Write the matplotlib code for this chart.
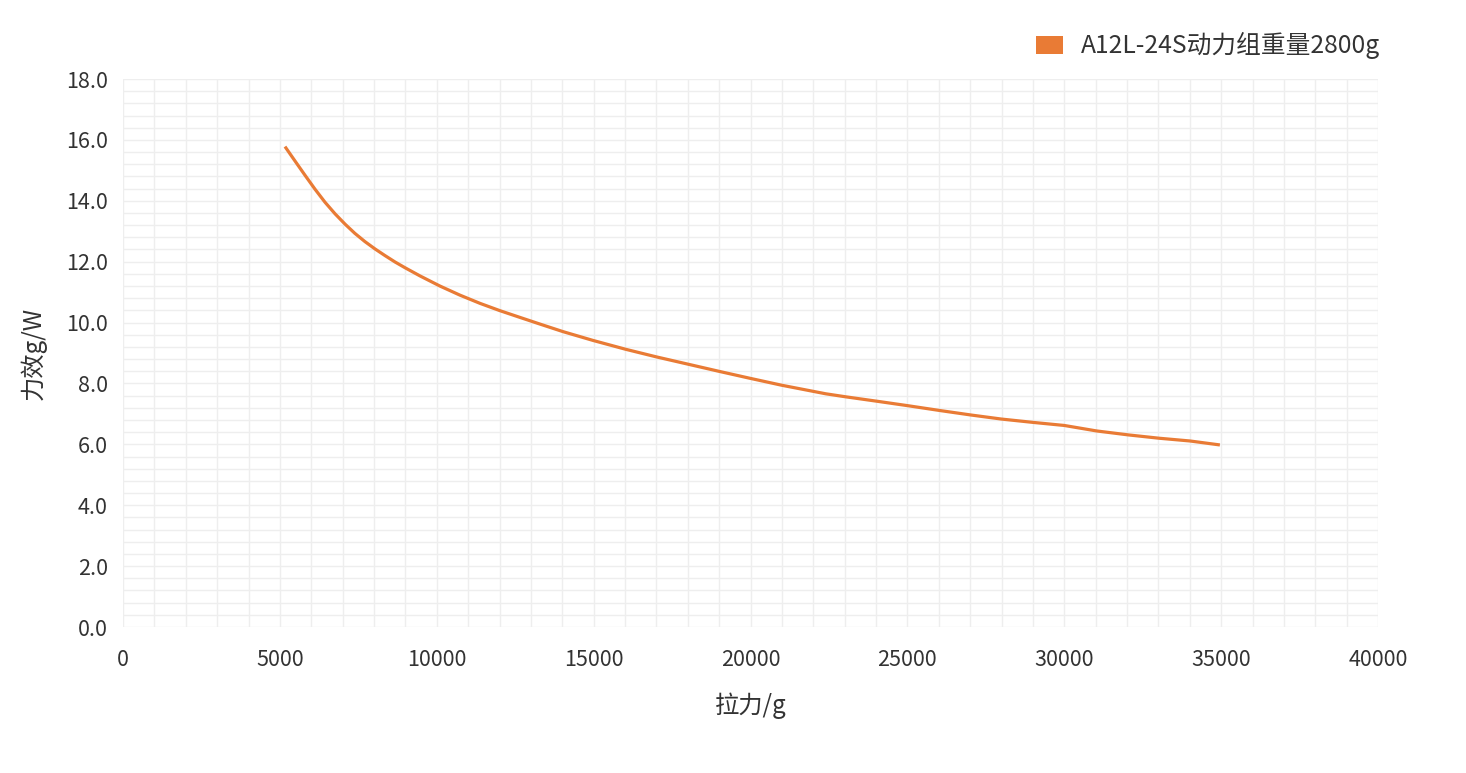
import matplotlib
matplotlib.use("Agg")
import matplotlib.pyplot as plt
from matplotlib.patches import Patch
from matplotlib.ticker import MultipleLocator, FormatStrFormatter

plt.rcParams['font.family'] = ['Noto Sans CJK SC', 'DejaVu Sans']

series_name = "A12L-24S动力组重量2800g"
thrust_g = [5163, 5480, 5800, 6120, 6440, 6760, 7080, 7390, 7710, 8030,
            8350, 8670, 8990, 9470, 10100, 10740, 11380, 12015, 12650, 13290,
            14030, 14990, 16030, 17010, 18020, 19030, 19980, 21000, 22000, 22400,
            23040, 24070, 25010, 26040, 27050, 28000, 29010, 30000, 31030, 32040,
            33030, 34010, 34960]
efficiency = [15.78, 15.31, 14.84, 14.38, 13.95, 13.57, 13.23, 12.93, 12.66, 12.42,
              12.20, 11.99, 11.80, 11.53, 11.20, 10.90, 10.63, 10.39, 10.17, 9.95,
              9.70, 9.41, 9.12, 8.87, 8.63, 8.39, 8.17, 7.94, 7.74, 7.66,
              7.56, 7.41, 7.27, 7.11, 6.96, 6.83, 6.72, 6.62, 6.44, 6.31,
              6.20, 6.11, 5.98]
x_label = "拉力/g"
y_label = "力效g/W"

line_color = "#E97B35"
text_color = "#333333"
grid_color = "#eeeeee"

fig = plt.figure(figsize=(14.66, 7.73), dpi=100)
ax = fig.add_axes([123/1466, 146/773, 1255/1466, 548/773])

ax.plot(thrust_g, efficiency, color=line_color, lw=2.3,
        solid_joinstyle='round', solid_capstyle='butt')

ax.set_xlim(0, 40000)
ax.set_ylim(0, 18)
ax.xaxis.set_major_locator(MultipleLocator(5000))
ax.xaxis.set_minor_locator(MultipleLocator(1000))
ax.yaxis.set_major_locator(MultipleLocator(2))
ax.yaxis.set_minor_locator(MultipleLocator(0.4))
ax.yaxis.set_major_formatter(FormatStrFormatter('%.1f'))
ax.grid(True, which='both', color=grid_color, lw=1)
ax.set_axisbelow(True)
for s in ax.spines.values():
    s.set_visible(False)
ax.tick_params(which='both', length=0, labelsize=15.5, labelcolor=text_color)
ax.tick_params(axis='x', pad=16)
ax.tick_params(axis='y', pad=11)

ax.set_xlabel(x_label, fontsize=17.5, color=text_color, labelpad=15.5)
ax.set_ylabel(y_label, fontsize=17.5, color=text_color, labelpad=14)

handle = Patch(facecolor=line_color, edgecolor='none')
fig.legend([handle], [series_name], loc='upper right',
           bbox_to_anchor=(1402/1466, 1 - 10/773), frameon=False,
           fontsize=17.8, labelcolor=text_color, handlelength=1.1,
           handleheight=0.75, handletextpad=0.7)

fig.savefig("out.png", dpi=100, facecolor='white')
